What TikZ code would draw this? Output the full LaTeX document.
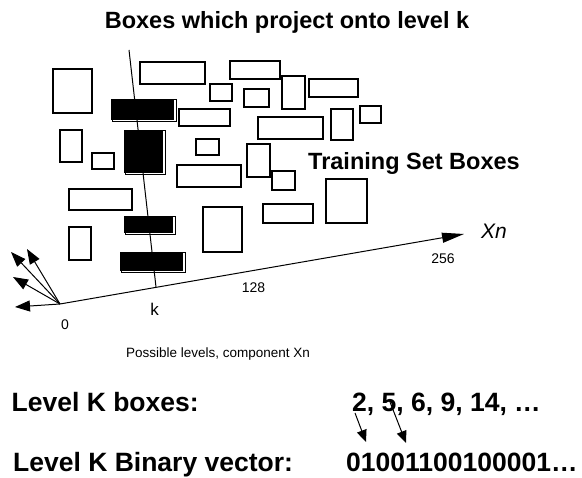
\documentclass[tikz,border=0pt]{standalone}
\usepackage{fontspec}
\setmainfont{Liberation Sans}
\usetikzlibrary{arrows.meta, positioning}
\newcommand\fsz[1]{\fontsize{#1}{#1}\selectfont}
\tikzset{
  box/.style={line width=1.9pt}, % outline of a training set box
  hitbox/.style={line width=1pt}, % outline behind a black box
  bigtip/.style={-{Triangle[length=15pt,width=11pt]}}, % heads at the origin
  axistip/.style={-{Triangle[length=22pt,width=10pt]}}, % head of the Xn axis
  smalltip/.style={-{Triangle[length=12pt,width=10pt]}}, % heads below the list
  every node/.style={inner sep=0pt},
}

\begin{document}
\begin{tikzpicture}[x=1pt,y=-1pt]
    \useasboundingbox (0,0) rectangle (582,478);

    % training set boxes
    \foreach \xa/\ya/\xb/\yb in {53/69/92/113, 140/62/205/84, 230/61/280/79,
      210/84/232/101, 244/89/269/107, 282/76/305/109, 309/79/358/97,
      179/109/230/126, 258/117/323/139, 331/109/353/140, 360/106/381/123,
      60/130/82/162, 92/153/114/169, 196/139/219/155, 177/165/241/187,
      247/144/270/177, 272/171/295/190, 69/189/132/210, 203/207/242/252,
      263/204/313/223, 326/179/367/223, 69/227/91/260}
      \draw[box] (\xa,\ya) rectangle (\xb,\yb);

    % boxes which project onto level k
    \foreach \xa/\ya/\xb/\yb in {112/100/176/122, 125/131/165/175,
      125/217/175/235, 121/253/185/273}{
      \draw[hitbox] (\xa,\ya) rectangle (\xb,\yb);
      \fill (\xa-0.8,\ya-0.8) rectangle (\xb-1.8,\yb-1.8);
    }

    % level k and the axis
    \coordinate (ktop) at (129,50);
    \coordinate (kfoot) at (156,287);
    \coordinate (orig) at (60,304);
    \coordinate (xend) at (464,234);
    \draw[line width=1pt] (ktop) -- (kfoot);
    \draw[line width=1pt, axistip] (orig) -- (xend);

    % other components at the origin
    \coordinate (dir_a) at (11,252);
    \coordinate (dir_b) at (27,249);
    \coordinate (dir_c) at (13,277);
    \coordinate (dir_d) at (15,307);
    \foreach \d in {dir_a, dir_b, dir_c, dir_d}
      \draw[line width=1pt, bigtip] (orig) -- (\d);

    \node[font=\bfseries\fsz{23.5}, anchor=base] (title) at (287,28.3)
      {Boxes which project onto level k};
    \node[font=\bfseries\fsz{23.5}, anchor=base west] (train) at (308,170)
      {Training Set Boxes};
    \node[font=\itshape\fsz{21}, anchor=base west] (xn) at (481,239) {Xn};
    \node[font=\fsz{14}, anchor=base] (n256) at (443,264) {256};
    \node[font=\fsz{14}, anchor=base] (n128) at (253.5,293) {128};
    \node[font=\fsz{17}, anchor=base] (nk) at (154.5,316) {k};
    \node[font=\fsz{14}, anchor=base] (n0) at (65,330) {0};
    \node[font=\fsz{13.5}, anchor=base] (levels) at (218,358)
      {Possible levels, component Xn};

    \node[font=\bfseries\fsz{26.5}, anchor=base west] (kboxes) at (11.5,411.7)
      {Level K boxes:};
    \node[font=\bfseries\fsz{26.5}, anchor=base west] (boxlist) at (352,411.7)
      {2, 5, 6, 9, 14, …};
    \node[font=\bfseries\fsz{26.5}, anchor=base west] (kvector) at (13,472)
      {Level K Binary vector:};
    \node[font=\bfseries\fsz{26.5}, anchor=base west] (bits) at (346,472)
      {01001100100001…};

    % from box numbers to bits
    \coordinate (from_two) at (355,413);
    \coordinate (to_two) at (366,442);
    \coordinate (from_five) at (390,402);
    \coordinate (to_five) at (406,443);
    \draw[line width=1pt, smalltip] (from_two) -- (to_two);
    \draw[line width=1pt, smalltip] (from_five) -- (to_five);
  \end{tikzpicture}
\end{document}
